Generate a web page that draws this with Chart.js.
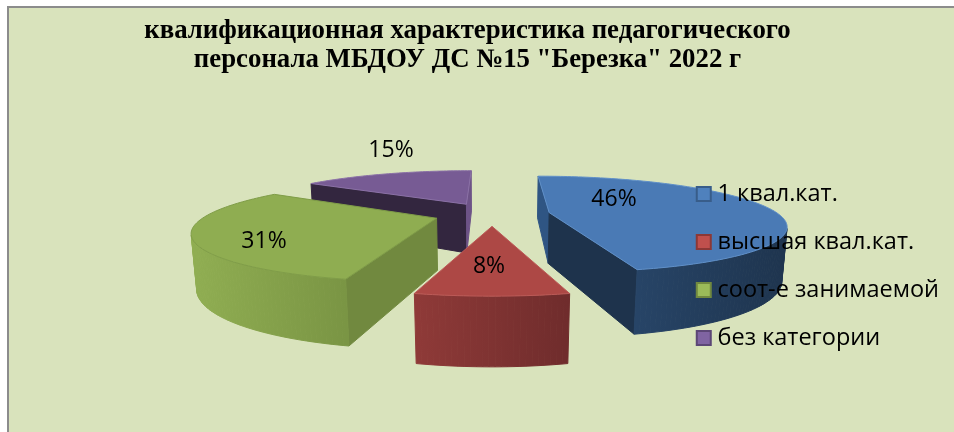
<!DOCTYPE html>
<html lang="ru">
<head>
<meta charset="utf-8">
<title>квалификационная характеристика</title>
<script src="https://cdn.jsdelivr.net/npm/chart.js@4/dist/chart.umd.min.js"></script>
<style>
  html, body { margin: 0; height: 100%; background: #fff; overflow: hidden; }
  #frame {
    position: absolute; left: 7px; top: 6px; right: 0; bottom: 0;
    background: #d9e3bc; border-left: 2px solid #8c8c8c; border-top: 2px solid #8c8c8c;
  }
  #chart { display: block; }
</style>
</head>
<body>
<div id="frame"><canvas id="chart" width="945" height="424"></canvas></div>
<script>
const categories = ['1 квал.кат.', 'высшая квал.кат.', 'соот-е занимаемой', 'без категории'];
const teachers = [6, 1, 4, 2];
const titleLines = ['квалификационная характеристика педагогического', 'персонала МБДОУ ДС №15 "Березка" 2022 г'];

const swatches = ['#4f81bd', '#c0504d', '#9bbb59', '#8064a2'];
const swatchEdges = ['#385d8a', '#8c3836', '#71893f', '#5c4776'];
const tops = ['#4a7ab5', '#ad4845', '#8fad51', '#775b94'];
const topEdges = ['#5f8fc8', '#bb5a57', '#7f9c48', '#8a70a6'];
const rimLeft = ['#2d4f77', '#8f3a38', '#90ae52', '#5f4878'];
const rimRight = ['#1e344e', '#6f2c2c', '#7a9544', '#33263f'];
const startWalls = ['#2f5583', '#7a2f2d', '#71893f', '#33263f'];
const endWalls = ['#1e334c', '#7a2f2d', '#71893f', '#6d5387'];

// where each percent label sits on the page
const labelSpots = [[614, 199], [489, 266], [264, 241], [391, 150]];

// camera for the tilted, exploded pie (canvas pixels)
const cam = { cx: 483, cy: 206, radius: 229, explode: 58, tilt: 0.2, persp: 0.00105, depth: 52, bottomShrink: 0.017 };

function project(x, y, z){
  const w = 1 - cam.persp * y + cam.bottomShrink * z;
  return [cam.cx + x / w, cam.cy + (cam.tilt * y + cam.depth * z) / w];
}

function poly(ctx, pts){
  ctx.beginPath();
  pts.forEach((p, i) => i ? ctx.lineTo(p[0], p[1]) : ctx.moveTo(p[0], p[1]));
  ctx.closePath();
}

function faceArea(a, b, c, d){
  const pts = [a, b, c, d];
  let s = 0;
  for(let i = 0; i < 4; i++){
    const p = pts[i], q = pts[(i + 1) % 4];
    s += p[0] * q[1] - q[0] * p[1];
  }
  return s;
}

// walls are walked around the slice, so a wall facing the viewer has negative area
function drawWall(ctx, ax, ay, bx, by, color){
  const q = [project(ax, ay, 0), project(bx, by, 0), project(bx, by, 1), project(ax, ay, 1)];
  if(faceArea(q[0], q[1], q[2], q[3]) >= 0) return;
  poly(ctx, q);
  ctx.fillStyle = color;
  ctx.strokeStyle = color;
  ctx.fill();
  ctx.stroke();
}

const pie3d = {
  id: 'pie3d',
  beforeDraw(chart){
    const ctx = chart.ctx;
    const arcs = chart.getDatasetMeta(0).data.map((el, i) => {
      const mid = (el.startAngle + el.endAngle) / 2;
      return { i, a0: el.startAngle, a1: el.endAngle,
        ox: Math.cos(mid) * cam.explode, oy: Math.sin(mid) * cam.explode };
    });
    // far slices first
    arcs.sort((p, q) => p.oy - q.oy);
    ctx.save();
    ctx.lineWidth = 1;
    ctx.lineJoin = 'round';
    for(const s of arcs){
      const rim = [];
      const n = Math.ceil((s.a1 - s.a0) / 0.02);
      for(let k = 0; k <= n; k++){
        const a = s.a0 + (s.a1 - s.a0) * k / n;
        rim.push([s.ox + Math.cos(a) * cam.radius, s.oy + Math.sin(a) * cam.radius]);
      }
      const first = rim[0], last = rim[rim.length - 1];

      drawWall(ctx, s.ox, s.oy, first[0], first[1], startWalls[s.i]);
      drawWall(ctx, last[0], last[1], s.ox, s.oy, endWalls[s.i]);

      const xs = rim.map(p => project(p[0], p[1], 0)[0]);
      const grad = ctx.createLinearGradient(Math.min(...xs), 0, Math.max(...xs), 0);
      grad.addColorStop(0, rimLeft[s.i]);
      grad.addColorStop(1, rimRight[s.i]);
      for(let k = 0; k < rim.length - 1; k++){
        drawWall(ctx, rim[k][0], rim[k][1], rim[k + 1][0], rim[k + 1][1], grad);
      }

      poly(ctx, [project(s.ox, s.oy, 0), ...rim.map(p => project(p[0], p[1], 0))]);
      ctx.fillStyle = tops[s.i];
      ctx.strokeStyle = topEdges[s.i];
      ctx.fill();
      ctx.stroke();
    }
    ctx.restore();
  },
  // slices are painted above, the library's flat arcs only supply the angles
  beforeDatasetsDraw(){
    return false;
  },
  afterDraw(chart){
    const ctx = chart.ctx;
    const total = teachers.reduce((a, b) => a + b, 0);
    const box = chart.canvas.getBoundingClientRect();
    ctx.save();
    // legend keys are wider than the library would allow at this text gap
    chart.legend.legendHitBoxes.forEach((h, i) => {
      const x = h.left + 6;
      const y = h.top + h.height / 2 - 7;
      ctx.fillStyle = swatches[i];
      ctx.strokeStyle = swatchEdges[i];
      ctx.lineWidth = 2;
      ctx.fillRect(x, y, 14, 14);
      ctx.strokeRect(x, y, 14, 14);
    });
    ctx.font = '23px "Open Sans"';
    ctx.fillStyle = '#000';
    ctx.textAlign = 'center';
    ctx.textBaseline = 'middle';
    teachers.forEach((v, i) => {
      const pct = Math.round(v / total * 100) + '%';
      ctx.fillText(pct, labelSpots[i][0] - box.left, labelSpots[i][1] - box.top);
    });
    ctx.restore();
  },
  afterLayout(chart){
    // title block sits a little left of the canvas middle in the original
    chart.titleBlock.left -= 14;
    chart.titleBlock.right -= 14;
    const lg = chart.legend, dx = -5, dy = 46;
    lg.left += dx; lg.right += dx;
    lg.top += dy; lg.bottom += dy;
    lg.legendHitBoxes.forEach(h => { h.left += dx; h.top += dy; });
  }
};

new Chart(document.getElementById('chart'), {
  type: 'pie',
  data: {
    labels: categories,
    datasets: [{
      data: teachers,
      backgroundColor: swatches,
      borderColor: swatchEdges,
      borderWidth: 2
    }]
  },
  options: {
    responsive: false,
    animation: false,
    rotation: 0,
    plugins: {
      title: {
        display: true,
        text: titleLines,
        color: '#000',
        font: { family: '"Liberation Serif"', size: 26.8, weight: 'bold', lineHeight: 1.08 },
        padding: { top: 9, bottom: 0 }
      },
      legend: {
        position: 'right',
        labels: {
          color: '#000',
          font: { family: '"Open Sans"', size: 23.5 },
          boxWidth: 10,
          boxHeight: 10,
          padding: 24.5,
          // library keys stay empty, the wider ones are painted in afterDraw
          generateLabels(chart){
            return Chart.overrides.pie.plugins.legend.labels.generateLabels(chart)
              .map(l => ({ ...l, fillStyle: 'rgba(0,0,0,0)', strokeStyle: 'rgba(0,0,0,0)' }));
          }
        }
      },
      tooltip: { enabled: false }
    }
  },
  plugins: [pie3d]
});
</script>
</body>
</html>
